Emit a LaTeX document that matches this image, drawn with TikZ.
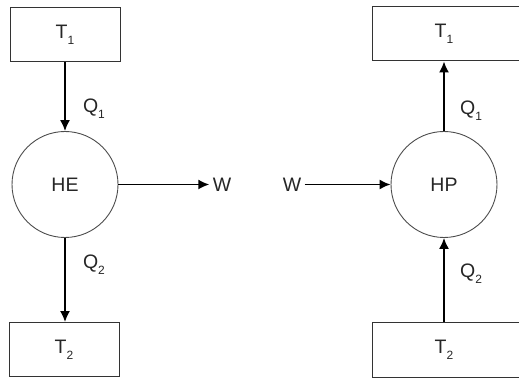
\documentclass[tikz,border=0pt]{standalone}
\usepackage{fontspec}
\setmainfont{Liberation Sans}
\usetikzlibrary{arrows.meta}
\newcommand{\idx}[1]{\raisebox{-0.6ex}{\fontsize{12}{12}\selectfont #1}}

\begin{document}
\begin{tikzpicture}[x=1pt,y=-1pt,
    tank/.style={draw=black!80,line width=1pt,minimum width=110pt,minimum height=54pt,inner sep=0pt},
    engine/.style={draw=black!70,line width=0.9pt,circle,minimum size=106pt,inner sep=0pt},
    flow/.style={-{Latex[length=11pt,width=10pt]},line width=1.6pt},
    lbl/.style={text=black!85,font=\fontsize{19.5}{22}\selectfont}]
  \useasboundingbox (0,0) rectangle (519,379);

  % heat engine
  \node[tank] (hotL) at (65,34.5) {};
  \node[lbl] (t1L) at (hotL) {T\idx{1}};
  \node[engine,lbl] (he) at (65,184.5) {HE};
  \node[tank] (coldL) at (64,349.5) {};
  \node[lbl] (t2L) at (coldL) {T\idx{2}};
  \node[lbl] (wL) at (222,184.5) {W};
  \node[lbl] (q1L) at (94,109) {Q\idx{1}};
  \node[lbl] (q2L) at (94,265) {Q\idx{2}};

  \draw[flow] (hotL) -- (he);
  \draw[flow] (he) -- (coldL.north -| he);
  \draw[flow] (he) -- (wL);

  % heat pump
  \node[tank,minimum width=168pt] (hotR) at (456,34) {};
  \node[engine,lbl] (hp) at (444,184.5) {HP};
  \node[lbl] (t1R) at (hotR.center -| hp) {T\idx{1}};
  \node[tank,minimum width=168pt,minimum height=55pt] (coldR) at (456,349.5) {};
  \node[lbl] (t2R) at (coldR.center -| hp) {T\idx{2}};
  \node[lbl] (wR) at (292,184.5) {W};
  \node[lbl] (q1R) at (471,111) {Q\idx{1}};
  \node[lbl] (q2R) at (471,274) {Q\idx{2}};

  \draw[flow] (hp) -- (hotR.south -| hp);
  \draw[flow] (coldR.north -| hp) -- (hp);
  \draw[flow] (wR) -- (hp);
\end{tikzpicture}
\end{document}
